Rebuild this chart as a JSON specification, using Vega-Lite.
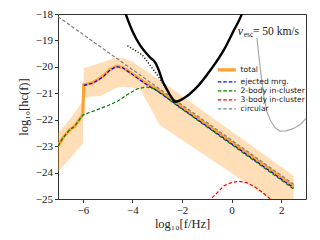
{
  "$schema": "https://vega.github.io/schema/vega-lite/v6.json",
  "width": 248,
  "height": 185,
  "autosize": {"type": "none"},
  "padding": {"left": 58, "top": 14, "right": 14, "bottom": 41},
  "background": "white",
  "config": {
    "view": {"stroke": "#333333", "strokeWidth": 1},
    "axis": {
      "domain": false, "grid": false, "labelOverlap": false, "labelFlush": false,
      "labelFont": "Liberation Serif", "labelFontSize": 11, "labelColor": "#222",
      "titleFont": "Liberation Serif", "titleFontSize": 12.5, "titleFontWeight": "normal", "titleColor": "#222",
      "tickColor": "#333", "tickSize": 3.5
    }
  },
  "encoding": {
    "x": {"field": "x", "type": "quantitative", "scale": {"domain": [-7, 3]},
          "axis": {"values": [-6, -4, -2, 0, 2], "title": "log₁₀[f/Hz]", "titlePadding": 2, "labelOverlap": false}},
    "y": {"field": "y", "type": "quantitative", "scale": {"domain": [-25, -18]},
          "axis": {"values": [-25, -24, -23, -22, -21, -20, -19, -18], "title": "log₁₀[hc(f)]", "titlePadding": 5, "labelOverlap": false}}
  },
  "datasets": {
    "band": [
      {"x": -7.0, "y": -23.96, "hi": -22.5},
      {"x": -6.5, "y": -23.45, "hi": -21.95},
      {"x": -6.0, "y": -22.9, "hi": -21.3},
      {"x": -5.96, "y": -21.15, "hi": -20.05},
      {"x": -5.3, "y": -21.1, "hi": -19.85},
      {"x": -4.65, "y": -20.8, "hi": -19.65},
      {"x": -4.4, "y": -20.75, "hi": -19.67},
      {"x": -4.0, "y": -20.77, "hi": -19.8},
      {"x": -3.7, "y": -20.85, "hi": -20.0},
      {"x": -3.3, "y": -21.5, "hi": -20.25},
      {"x": -2.9, "y": -22.2, "hi": -20.5},
      {"x": 2.5, "y": -25.6, "hi": -24.12}
    ],
    "total": [
      {"series": "total", "x": -7.0, "y": -23.0},
      {"series": "total", "x": -6.81, "y": -22.7},
      {"series": "total", "x": -6.54, "y": -22.39},
      {"series": "total", "x": -6.34, "y": -22.26},
      {"series": "total", "x": -6.14, "y": -22.0},
      {"series": "total", "x": -6.0, "y": -21.82},
      {"series": "total", "x": -5.96, "y": -20.68},
      {"series": "total", "x": -5.6, "y": -20.6},
      {"series": "total", "x": -5.2, "y": -20.37},
      {"series": "total", "x": -4.9, "y": -20.1},
      {"series": "total", "x": -4.65, "y": -19.98},
      {"series": "total", "x": -4.4, "y": -20.02},
      {"series": "total", "x": -4.1, "y": -20.2},
      {"series": "total", "x": -3.75, "y": -20.43},
      {"series": "total", "x": -3.4, "y": -20.65},
      {"series": "total", "x": -3.05, "y": -20.83},
      {"series": "total", "x": 2.5, "y": -24.53}
    ],
    "others": [
      {"series": "ejected mrg.", "x": -5.96, "y": -20.7},
      {"series": "ejected mrg.", "x": -5.6, "y": -20.62},
      {"series": "ejected mrg.", "x": -5.2, "y": -20.39},
      {"series": "ejected mrg.", "x": -4.9, "y": -20.12},
      {"series": "ejected mrg.", "x": -4.65, "y": -19.99},
      {"series": "ejected mrg.", "x": -4.4, "y": -20.03},
      {"series": "ejected mrg.", "x": -4.1, "y": -20.22},
      {"series": "ejected mrg.", "x": -3.75, "y": -20.46},
      {"series": "ejected mrg.", "x": -3.4, "y": -20.69},
      {"series": "ejected mrg.", "x": -3.05, "y": -20.88},
      {"series": "ejected mrg.", "x": 2.5, "y": -24.58},
      {"series": "2-body in-cluster", "x": -7.0, "y": -23.0},
      {"series": "2-body in-cluster", "x": -6.81, "y": -22.7},
      {"series": "2-body in-cluster", "x": -6.54, "y": -22.39},
      {"series": "2-body in-cluster", "x": -6.34, "y": -22.26},
      {"series": "2-body in-cluster", "x": -6.14, "y": -22.0},
      {"series": "2-body in-cluster", "x": -6.0, "y": -21.82},
      {"series": "2-body in-cluster", "x": -5.5, "y": -21.65},
      {"series": "2-body in-cluster", "x": -5.0, "y": -21.47},
      {"series": "2-body in-cluster", "x": -4.6, "y": -21.3},
      {"series": "2-body in-cluster", "x": -4.2, "y": -21.05},
      {"series": "2-body in-cluster", "x": -3.8, "y": -20.83},
      {"series": "2-body in-cluster", "x": -3.45, "y": -20.76},
      {"series": "2-body in-cluster", "x": -3.15, "y": -20.82},
      {"series": "2-body in-cluster", "x": -2.8, "y": -21.02},
      {"series": "2-body in-cluster", "x": -2.4, "y": -21.33},
      {"series": "2-body in-cluster", "x": 2.5, "y": -24.62},
      {"series": "3-body in-cluster", "x": -0.95, "y": -25.1},
      {"series": "3-body in-cluster", "x": -0.6, "y": -24.78},
      {"series": "3-body in-cluster", "x": -0.3, "y": -24.5},
      {"series": "3-body in-cluster", "x": 0.0, "y": -24.37},
      {"series": "3-body in-cluster", "x": 0.3, "y": -24.33},
      {"series": "3-body in-cluster", "x": 0.6, "y": -24.38},
      {"series": "3-body in-cluster", "x": 0.9, "y": -24.52},
      {"series": "3-body in-cluster", "x": 1.2, "y": -24.72},
      {"series": "3-body in-cluster", "x": 1.5, "y": -24.95},
      {"series": "3-body in-cluster", "x": 1.65, "y": -25.1},
      {"series": "circular", "x": -7.0, "y": -18.1},
      {"series": "circular", "x": 2.5, "y": -24.44}
    ],
    "sens": [
      {"x": -4.35, "y": -17.8},
      {"x": -3.95, "y": -18.75},
      {"x": -3.68, "y": -19.2},
      {"x": -3.28, "y": -19.65},
      {"x": -3.07, "y": -19.85},
      {"x": -2.94, "y": -20.12},
      {"x": -2.8, "y": -20.5},
      {"x": -2.6, "y": -20.87},
      {"x": -2.4, "y": -21.19},
      {"x": -2.26, "y": -21.32},
      {"x": -1.93, "y": -21.19},
      {"x": -1.38, "y": -20.75},
      {"x": -0.85, "y": -20.12},
      {"x": -0.31, "y": -19.36},
      {"x": 0.1, "y": -18.6},
      {"x": 0.37, "y": -18.1},
      {"x": 0.45, "y": -17.9}
    ],
    "dotted": [
      {"x": -4.2, "y": -19.2},
      {"x": -3.6, "y": -19.55},
      {"x": -3.0, "y": -20.3},
      {"x": -2.3, "y": -21.3}
    ],
    "grayc": [
      {"x": 1.02, "y": -18.9},
      {"x": 1.1, "y": -19.6},
      {"x": 1.2, "y": -20.4},
      {"x": 1.3, "y": -21.1},
      {"x": 1.42, "y": -21.7},
      {"x": 1.58, "y": -22.05},
      {"x": 1.75, "y": -22.3},
      {"x": 1.95, "y": -22.43},
      {"x": 2.2, "y": -22.42},
      {"x": 2.5, "y": -22.33},
      {"x": 2.8, "y": -22.15},
      {"x": 3.0, "y": -21.95}
    ],
    "note_v": [{"t": "v", "x": 0.25, "y": -18.79}],
    "note_esc": [{"t": "esc", "x": 0.49, "y": -18.88}],
    "note_rest": [{"t": "= 50 km/s", "x": 0.86, "y": -18.79}]
  },
  "layer": [
    {
      "data": {"name": "band"},
      "mark": {"type": "area", "color": "#ffa033", "opacity": 0.35, "clip": true},
      "encoding": {"y2": {"field": "hi"}}
    },
    {
      "data": {"name": "total"},
      "mark": {"type": "line", "clip": true, "strokeWidth": 3.2},
      "encoding": {
        "color": {"field": "series", "type": "nominal",
          "scale": {"domain": ["total", "ejected mrg.", "2-body in-cluster", "3-body in-cluster", "circular"],
                    "range": ["#ffa033", "#0000ff", "#008000", "#ff0000", "#808080"]},
          "legend": {"orient": "none", "legendX": 165, "legendY": 52, "title": null,
                     "symbolType": "M-1.5,0L1.5,0", "symbolSize": 144, "rowPadding": 0, "padding": 0,
                     "labelFont": "DejaVu Sans", "labelFontSize": 7.6, "labelColor": "#222", "labelOffset": 10, "labelLimit": 200,
                     "encode": {"symbols": {"update": {"strokeWidth": {"signal": "datum.value === 'total' ? 3.2 : 1.2"}}}}}},
        "strokeDash": {"field": "series", "type": "nominal",
          "scale": {"domain": ["total", "ejected mrg.", "2-body in-cluster", "3-body in-cluster", "circular"],
                    "range": [[1, 0], [3.5, 2], [3.5, 2], [3.5, 2], [3.5, 2]]}}
      }
    },
    {
      "data": {"name": "others"},
      "mark": {"type": "line", "clip": true, "strokeWidth": 1.2},
      "encoding": {
        "color": {"field": "series", "type": "nominal"},
        "strokeDash": {"field": "series", "type": "nominal"}
      }
    },
    {
      "data": {"name": "grayc"},
      "mark": {"type": "line", "color": "#aaaaaa", "strokeWidth": 1.2, "clip": true},
      "encoding": {}
    },
    {
      "data": {"name": "dotted"},
      "mark": {"type": "line", "color": "#222222", "strokeWidth": 1.5, "strokeDash": [1.2, 1.8], "clip": true},
      "encoding": {}
    },
    {
      "data": {"name": "sens"},
      "mark": {"type": "line", "color": "#000000", "strokeWidth": 2.4, "interpolate": "monotone", "clip": true},
      "encoding": {}
    },
    {
      "data": {"name": "note_v"},
      "mark": {"type": "text", "font": "Liberation Serif", "fontStyle": "italic", "fontSize": 12, "align": "left", "baseline": "alphabetic", "color": "#222"},
      "encoding": {"text": {"field": "t"}}
    },
    {
      "data": {"name": "note_esc"},
      "mark": {"type": "text", "font": "Liberation Serif", "fontSize": 7.5, "align": "left", "baseline": "alphabetic", "color": "#222"},
      "encoding": {"text": {"field": "t"}}
    },
    {
      "data": {"name": "note_rest"},
      "mark": {"type": "text", "font": "Liberation Serif", "fontSize": 11.5, "align": "left", "baseline": "alphabetic", "color": "#222"},
      "encoding": {"text": {"field": "t"}}
    }
  ]
}
